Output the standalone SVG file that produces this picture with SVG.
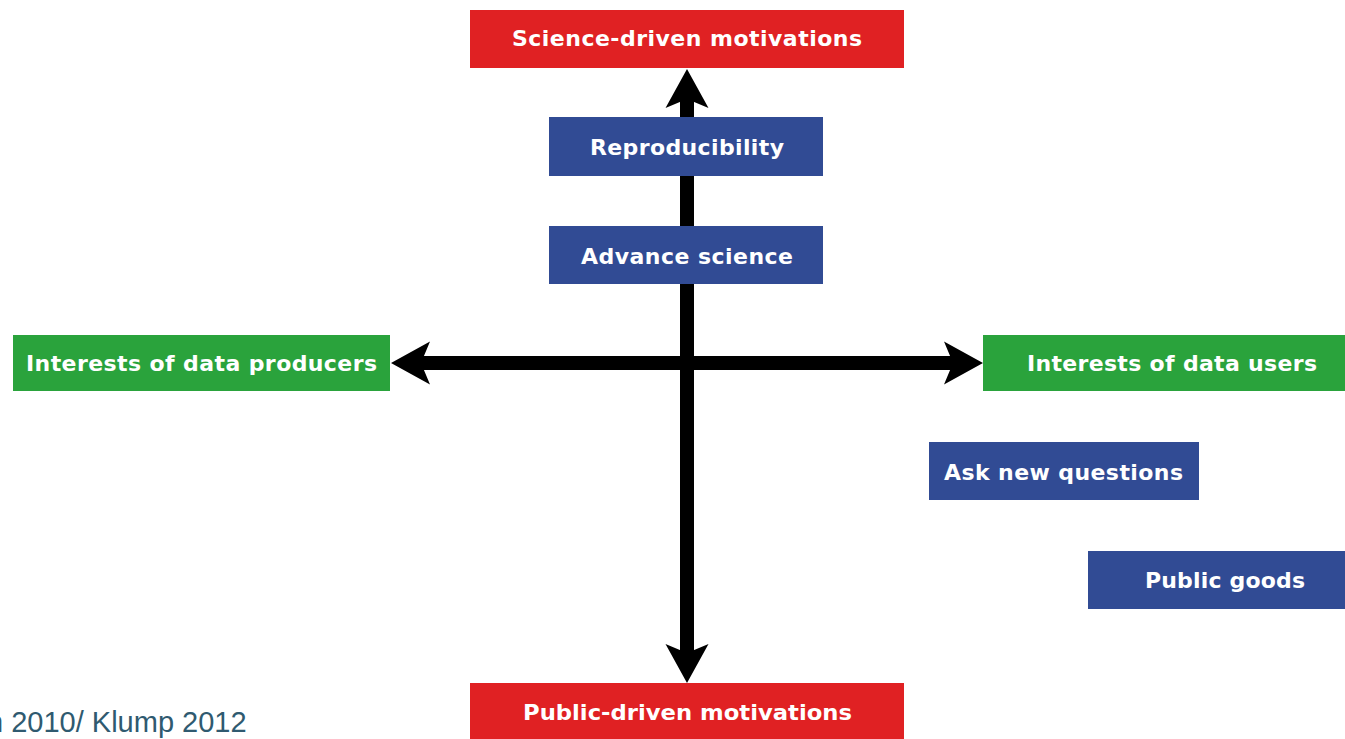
<svg xmlns="http://www.w3.org/2000/svg" width="1345" height="739" viewBox="0 0 1345 739">
<style>
.red{fill:#e02123}
.blue{fill:#314b94}
.green{fill:#2aa33c}
.lbl{font-family:"DejaVu Sans","Liberation Sans",sans-serif;font-weight:bold;font-size:22px;fill:#ffffff;text-anchor:middle}
.axis{stroke:#000;stroke-width:14;fill:none;marker-start:url(#ah);marker-end:url(#ah)}
.foot{font-family:"Liberation Sans",Arial,sans-serif;font-size:29px;fill:#2f5a70}
</style>
<defs>
<marker id="ah" markerUnits="userSpaceOnUse" viewBox="-12 -23 44 46" markerWidth="44" markerHeight="46" refX="0" refY="0" orient="auto-start-reverse" overflow="visible">
<path d="M30,0 L-9,-21.5 L0,0 L-9,21.5 Z" fill="#000"/>
</marker>
</defs>
<rect width="1345" height="739" fill="#ffffff"/>
<g id="connectors">
<line class="axis" x1="687" y1="99" x2="687" y2="653"/>
<line class="axis" x1="421" y1="363" x2="953" y2="363"/>
</g>
<g id="science-driven">
<rect class="red" x="470" y="10" width="434" height="58"/>
<text class="lbl" x="687" y="46" textLength="350">Science-driven motivations</text>
</g>
<g id="reproducibility">
<rect class="blue" x="549" y="117" width="274" height="59"/>
<text class="lbl" x="687" y="155" textLength="194">Reproducibility</text>
</g>
<g id="advance-science">
<rect class="blue" x="549" y="226" width="274" height="58"/>
<text class="lbl" x="687" y="264" textLength="212">Advance science</text>
</g>
<g id="data-producers">
<rect class="green" x="13" y="335" width="377" height="56"/>
<text class="lbl" x="201.5" y="371" textLength="351">Interests of data producers</text>
</g>
<g id="data-users">
<rect class="green" x="983" y="335" width="362" height="56"/>
<text class="lbl" x="1172" y="371" textLength="290">Interests of data users</text>
</g>
<g id="ask-new-questions">
<rect class="blue" x="929" y="442" width="270" height="58"/>
<text class="lbl" x="1063.5" y="480" textLength="239">Ask new questions</text>
</g>
<g id="public-goods">
<rect class="blue" x="1088" y="551" width="257" height="58"/>
<text class="lbl" x="1225" y="588" textLength="160">Public goods</text>
</g>
<g id="public-driven">
<rect class="red" x="470" y="683" width="434" height="56"/>
<text class="lbl" x="687.5" y="720" textLength="329" lengthAdjust="spacingAndGlyphs">Public-driven motivations</text>
</g>
<text class="foot" x="-13" y="732">n 2010/ Klump 2012</text>
</svg>
